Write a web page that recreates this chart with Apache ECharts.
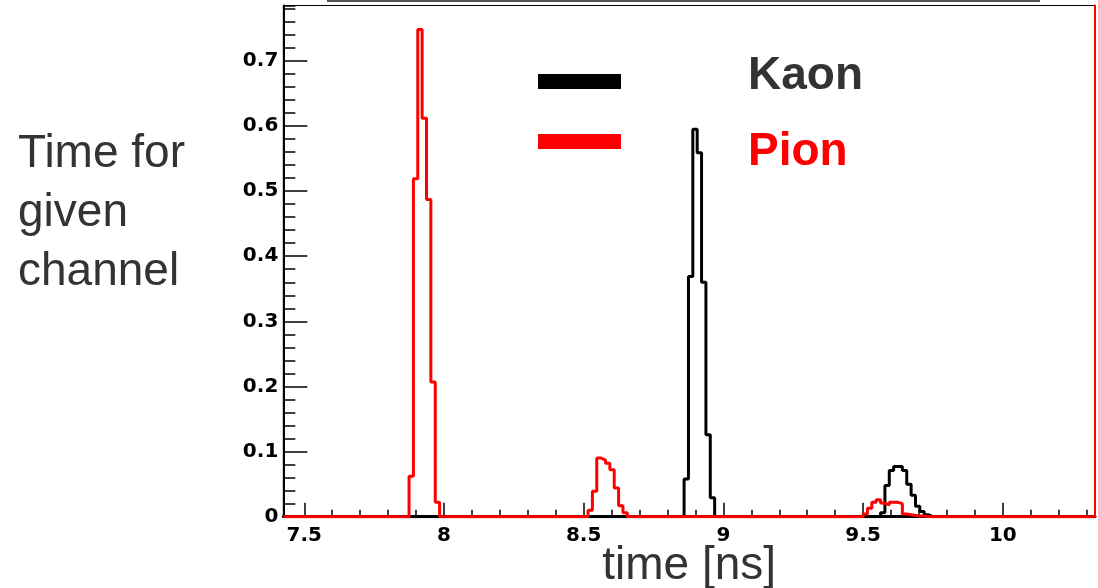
<!DOCTYPE html>
<html><head><meta charset="utf-8">
<script src="https://cdn.jsdelivr.net/npm/echarts@6/dist/echarts.min.js"></script>
<style>html,body{margin:0;padding:0;background:#fff}#c{width:1098px;height:588px}</style>
</head><body><div id="c"></div>
<script>
// ---- data ----
const binWidth = 0.015625;          // histogram bin width (ns)
const xRange = [7.425, 10.33];      // visible time range (ns)
const yRange = [0, 0.785];
const seriesNames = ['Kaon', 'Pion'];
// Kaon peaks: first bin left edge (ns) and bin contents (trailing empty bin included)
const kaonStart1 = 8.859375;
const kaonPeak1 = [0.058, 0.369, 0.595, 0.559, 0.360, 0.126, 0.029, 0];
const kaonStart2 = 9.5625;
const kaonPeak2 = [0.006, 0.048, 0.071, 0.077, 0.077, 0.071, 0.050, 0.033, 0.016, 0.008, 0.003, 0];
// Pion peaks
const pionStart1 = 7.875;
const pionPeak1 = [0.062, 0.519, 0.748, 0.612, 0.487, 0.207, 0.022, 0];
const pionStart2 = 8.515625;
const pionPeak2 = [0.010, 0.039, 0.090, 0.087, 0.082, 0.072, 0.044, 0.017, 0.006, 0];
const pionStart3 = 9.5;
const pionPeak3 = [0.004, 0.013, 0.022, 0.026, 0.021, 0.018, 0.022, 0.022, 0.020, 0.004, 0.003, 0.002, 0.001, 0.001, 0];

const xAxisTitle = 'time [ns]';
const yAxisTitle = 'Time for\ngiven\nchannel';

// ---- histogram points: [bin left edge, content], drawn as step lines ----
function histPoints(peaks) {
  const pts = [[xRange[0], 0]];
  peaks.forEach(([s, vals]) => {
    vals.forEach((v, i) => pts.push([s + i * binWidth, v]));
    pts.push([s + vals.length * binWidth, 0]);
  });
  pts.push([xRange[1], 0]);
  return pts;
}
const kaonData = histPoints([[kaonStart1, kaonPeak1], [kaonStart2, kaonPeak2]]);
const pionData = histPoints([[pionStart1, pionPeak1], [pionStart2, pionPeak2], [pionStart3, pionPeak3]]);

const LAB = '"DejaVu Sans", sans-serif';
const TXT = '"Liberation Sans", Arial, Helvetica, sans-serif';

const chart = echarts.init(document.getElementById('c'), null, {renderer: 'canvas'});
chart.setOption({
  animation: false,
  backgroundColor: '#fff',
  grid: {left: 283.3, right: 3, top: 5.5, bottom: 71.3, containLabel: false, outerBoundsMode: 'none',
         show: true, borderColor: '#000', borderWidth: 1, backgroundColor: 'transparent'},
  legend: [
    // legend markers (bars)
    {data: seriesNames, left: 538, top: 74, orient: 'vertical', icon: 'rect', itemWidth: 83, itemHeight: 15,
     itemGap: 45, padding: 0, selectedMode: false, itemStyle: {borderWidth: 0},
     formatter: () => '', textStyle: {fontSize: 10, lineHeight: 15}},
    // legend labels
    {data: [{name: seriesNames[0], textStyle: {color: '#333333'}}, {name: seriesNames[1], textStyle: {color: '#ff0000'}}],
     left: 743, top: 53, orient: 'vertical', icon: 'none', itemWidth: 0, itemHeight: 15, itemGap: 30, padding: 0,
     selectedMode: false,
     textStyle: {fontFamily: TXT, fontSize: 46, fontWeight: 'bold', lineHeight: 46}}
  ],
  xAxis: [
    {type: 'value', min: xRange[0], max: xRange[1], minInterval: 0.5, maxInterval: 0.5, splitNumber: 6,
     position: 'bottom', offset: 1.5,
     axisLine: {show: true, lineStyle: {color: '#000', width: 3}},
     axisTick: {show: true, inside: true, length: 14, lineStyle: {color: '#000', width: 1.5}},
     axisLabel: {showMinLabel: false, showMaxLabel: false, margin: 8, color: '#000', fontFamily: LAB, fontWeight: 'bold', fontSize: 20},
     splitLine: {show: false},
     name: xAxisTitle, nameLocation: 'middle', nameGap: 25, nameMoveOverlap: false,
     nameTextStyle: {fontFamily: TXT, fontSize: 46, color: '#333333', verticalAlign: 'top', lineHeight: 46}},
    {type: 'value', min: xRange[0], max: xRange[1], minInterval: 0.1, maxInterval: 0.1, splitNumber: 29,
     position: 'bottom', offset: 1.5,
     axisLine: {show: false},
     axisTick: {show: true, inside: true, length: 7, lineStyle: {color: '#000', width: 1.5}},
     axisLabel: {show: false}, splitLine: {show: false}}
  ],
  yAxis: [
    {type: 'value', min: yRange[0], max: yRange[1], interval: 0.1, position: 'left',
     axisLine: {show: true, lineStyle: {color: '#000', width: 2}},
     axisTick: {show: true, inside: true, length: 24, lineStyle: {color: '#000', width: 1.5}},
     axisLabel: {showMaxLabel: false, margin: 5, color: '#000', fontFamily: LAB, fontWeight: 'bold', fontSize: 20},
     splitLine: {show: false}},
    {type: 'value', min: yRange[0], max: yRange[1], interval: 0.02, position: 'left',
     axisLine: {show: false},
     axisTick: {show: true, inside: true, length: 12, lineStyle: {color: '#000', width: 1.5}},
     axisLabel: {show: false}, splitLine: {show: false}},
    {type: 'value', min: yRange[0], max: yRange[1], position: 'right', z: 5,
     axisLine: {show: true, lineStyle: {color: '#ff0000', width: 2}},
     axisTick: {show: false}, axisLabel: {show: false}, splitLine: {show: false}}
  ],
  series: [
    {name: seriesNames[0], type: 'line', step: 'end', data: kaonData, xAxisIndex: 0, yAxisIndex: 0,
     symbol: 'none', showSymbol: false, color: '#000000', z: 3,
     lineStyle: {color: '#000000', width: 3}, itemStyle: {color: '#000000'}},
    {name: seriesNames[1], type: 'line', step: 'end', data: pionData, xAxisIndex: 0, yAxisIndex: 0,
     symbol: 'none', showSymbol: false, color: '#ff0000', z: 4,
     lineStyle: {color: '#ff0000', width: 3}, itemStyle: {color: '#ff0000'}}
  ],
  graphic: [
    {type: 'text', left: 18, top: 125, style: {text: yAxisTitle, font: '46px ' + TXT, fill: '#333333', lineHeight: 59}},
    {type: 'line', shape: {x1: 327, y1: 1, x2: 1040, y2: 1}, style: {stroke: '#555555', lineWidth: 2}}
  ]
});
</script>
</body></html>
